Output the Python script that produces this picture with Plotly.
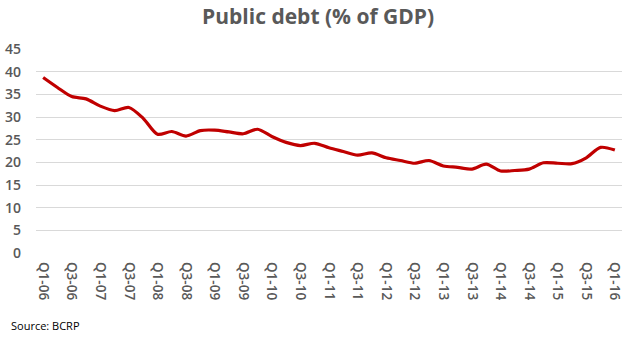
import plotly.graph_objects as go

years = ["06", "07", "08", "09", "10", "11", "12", "13", "14", "15", "16"]
quarters = [f"Q{q}-{y}" for y in years for q in (1, 2, 3, 4)][:41]

debt = [38.7, 36.5, 34.5, 34.0, 32.4, 31.4, 32.1, 29.7, 26.2, 26.8,
        25.8, 27.0, 27.1, 26.7, 26.3, 27.3, 25.7, 24.4, 23.7, 24.2,
        23.2, 22.4, 21.6, 22.1, 21.0, 20.4, 19.8, 20.4, 19.2, 18.9,
        18.5, 19.6, 18.1, 18.2, 18.5, 19.9, 19.8, 19.7, 21.0, 23.3,
        22.7]

tick_labels = quarters[::2]
y_ticks = [0, 5, 10, 15, 20, 25, 30, 35, 40, 45]

FONT = "Open Sans, Liberation Sans, sans-serif"

fig = go.Figure()
fig.add_trace(go.Scatter(
    x=quarters, y=debt, mode="lines",
    line=dict(color="#C00000", width=3.2, shape="spline", smoothing=0.8),
    hoverinfo="skip", showlegend=False,
))

fig.update_layout(
    width=640, height=340,
    margin=dict(l=36, r=18, t=49, b=87),
    paper_bgcolor="white", plot_bgcolor="white",
    font=dict(family=FONT, color="#595959"),
    title=dict(text="<b>Public debt (% of GDP)</b>", x=0.497, xanchor="center",
               y=0.95, yanchor="middle",
               font=dict(size=21, color="#595959", family=FONT)),
    xaxis=dict(
        type="category", categoryorder="array", categoryarray=quarters,
        range=[-0.5, 40.5], tickmode="array", tickvals=tick_labels,
        ticktext=tick_labels, tickangle=90, showgrid=False, ticks="",
        showline=False, zeroline=False, ticklabelstandoff=8, automargin=False,
        tickfont=dict(size=13.5, color="#595959", family=FONT, weight=600),
    ),
    yaxis=dict(
        range=[0, 45], tickvals=y_ticks, showgrid=True, gridcolor="#D9D9D9",
        gridwidth=1, zeroline=False, showline=False, ticks="", automargin=False,
        tickfont=dict(size=14, color="#595959", family=FONT, weight=600),
        ticklabelstandoff=14,
    ),
)

fig.add_annotation(text="Source: BCRP", xref="paper", yref="paper",
                   x=(9 - 36) / 586, y=(253 - 325) / 204,
                   xanchor="left", yanchor="middle", showarrow=False,
                   font=dict(size=11, color="#000000", family=FONT))

fig.write_html("out.html")
